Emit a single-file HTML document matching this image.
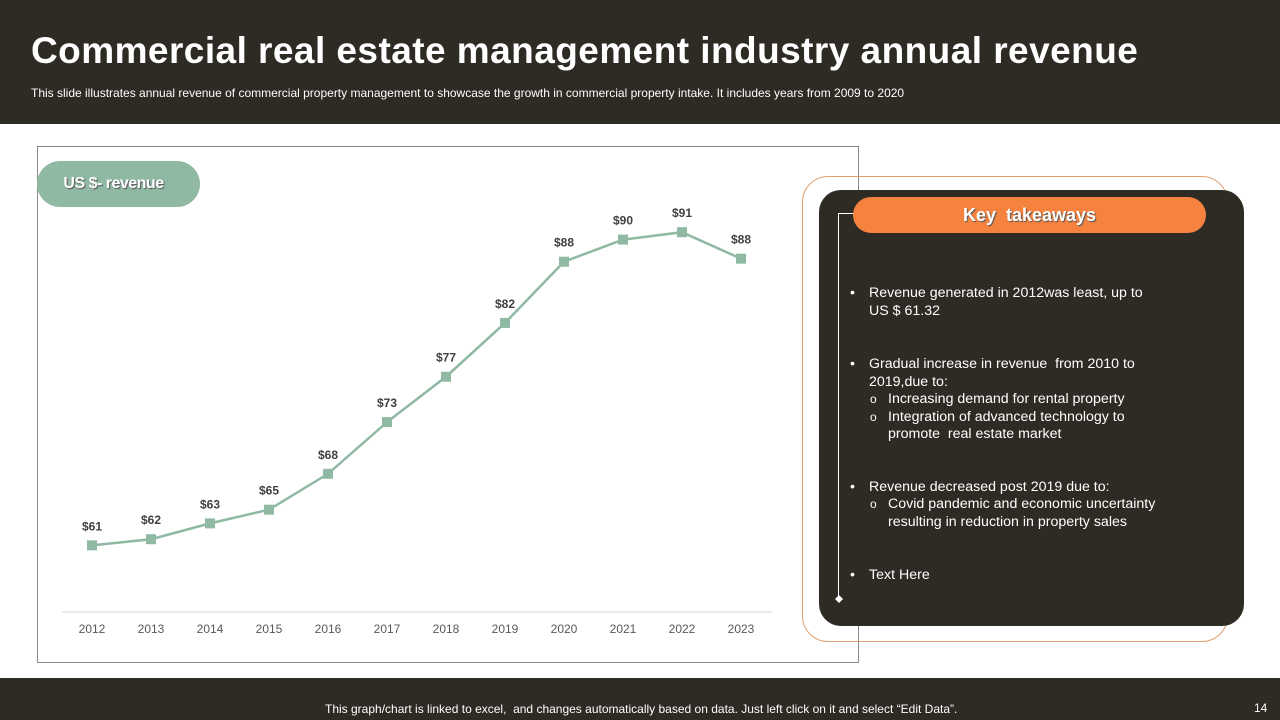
<!DOCTYPE html>
<html><head><meta charset="utf-8"><style>
*{margin:0;padding:0;box-sizing:border-box}
body{width:1280px;height:720px;background:#fff;font-family:"Liberation Sans",Arial,sans-serif;position:relative;overflow:hidden}
.hdr{position:absolute;left:0;top:0;width:1280px;height:124px;background:#2e2a24}
.hdr h1{position:absolute;left:31px;top:30px;color:#fff;font-size:37px;font-weight:bold;letter-spacing:0.45px;white-space:nowrap}
.hdr p{position:absolute;left:31px;top:86px;color:#fff;font-size:12px;white-space:nowrap}
.ftr{position:absolute;left:0;top:678px;width:1280px;height:42px;background:#2e2a24;color:#fff;font-size:12px}
.chartbox{position:absolute;left:37px;top:146px;width:822px;height:517px;border:1px solid #8a8a8a}
.pill{position:absolute;left:37px;top:161px;width:163px;height:46px;border-radius:23px;background:#8fb9a3;color:#fff;font-weight:bold;font-size:16px;letter-spacing:-0.5px;line-height:46px;text-align:center;text-shadow:1px 1px 1px #555;padding-right:10px}
.outer{position:absolute;left:802px;top:176px;width:426px;height:466px;border:1px solid #e0a070;border-radius:26px}
.inner{position:absolute;left:819px;top:190px;width:425px;height:436px;background:#2e2a24;border-radius:22px}
.kt{position:absolute;left:853px;top:197px;width:353px;height:36px;border-radius:18px;background:#f5823f;color:#fff;font-weight:bold;font-size:18px;line-height:36px;text-align:center;text-shadow:1px 1px 1px #555}
.vline{position:absolute;left:838px;top:213px;width:1px;height:386px;background:#fff}
.hline{position:absolute;left:838px;top:213px;width:16px;height:1px;background:#fff}
.txt{position:absolute;color:#fff;font-size:14.2px;line-height:17.5px;white-space:nowrap}
.b{position:absolute;left:-19px}
.o{position:absolute;left:-18px;font-size:12px}
</style></head><body>
<div class="hdr">
<h1>Commercial real estate management industry annual revenue</h1>
<p>This slide illustrates annual revenue of commercial property management to showcase the growth in commercial property intake. It includes years from 2009 to 2020</p>
</div>
<div class="chartbox"></div>
<svg id="chart" width="1280" height="720" style="position:absolute;left:0;top:0"></svg>
<div class="pill">US $- revenue</div>
<div class="outer"></div>
<div class="inner"></div>
<div class="vline"></div>
<div class="hline"></div>
<div class="kt">Key&nbsp; takeaways</div>
<div class="txt" style="left:869px;top:285px"><span class="b">•</span>Revenue generated in 2012was least, up to<br>US $ 61.32</div>
<div class="txt" style="left:869px;top:356px"><span class="b">•</span>Gradual increase in revenue&nbsp; from 2010 to<br>2019,due to:</div>
<div class="txt" style="left:888px;top:391px"><span class="o">o</span>Increasing demand for rental property<br><span class="o" style="top:17.5px">o</span>Integration of advanced technology to<br>promote&nbsp; real estate market</div>
<div class="txt" style="left:869px;top:479px"><span class="b">•</span>Revenue decreased post 2019 due to:</div>
<div class="txt" style="left:888px;top:496px"><span class="o">o</span>Covid pandemic and economic uncertainty<br>resulting in reduction in property sales</div>
<div class="txt" style="left:869px;top:567px"><span class="b">•</span>Text Here</div>
<svg width="8" height="8" style="position:absolute;left:835px;top:595px"><polygon points="4,0 8,4 4,8 0,4" fill="#fff"/></svg>
<div class="ftr">
<span style="position:absolute;left:325px;top:24px;white-space:nowrap">This graph/chart is linked to excel,&nbsp; and changes automatically based on data. Just left click on it and select “Edit Data”.</span>
<span style="position:absolute;left:1254px;top:23px">14</span>
</div>
<script>
const years=["2012","2013","2014","2015","2016","2017","2018","2019","2020","2021","2022","2023"];
const revenue=[61.32,61.9,63.4,64.7,68.1,73.0,77.3,82.4,88.2,90.3,91.0,88.49];
const yMin=55, yMax=95;
(function(){
const svg=document.getElementById('chart');
const NS='http://www.w3.org/2000/svg';
const x0=92, dx=59, base=612, plotTop=190;
const xs=i=>x0+i*dx;
const ys=v=>base-(v-yMin)/(yMax-yMin)*(base-plotTop);
function mk(t,a){const e=document.createElementNS(NS,t);for(const k in a)e.setAttribute(k,a[k]);svg.appendChild(e);return e;}
const ax=mk('line',{x1:62,x2:772,y1:base,y2:base,stroke:'#d9d9d9','stroke-width':1});


const pl=mk('polyline',{points:revenue.map((v,i)=>xs(i)+','+ys(v)).join(' '),fill:'none',stroke:'#8fb9a3','stroke-width':2.5});


revenue.forEach((v,i)=>{
const r=mk('rect',{x:xs(i)-5,y:ys(v)-5,width:10,height:10,fill:'#8fb9a3'});


const t=mk('text',{x:xs(i),y:ys(v)-15,'text-anchor':'middle','font-size':12,'font-weight':'bold',fill:'#404040','font-family':'Liberation Sans, sans-serif'});
t.textContent='$'+Math.round(v);


const l=mk('text',{x:xs(i),y:633,'text-anchor':'middle','font-size':12,fill:'#595959','font-family':'Liberation Sans, sans-serif'});
l.textContent=years[i];


});
})();
</script>
</body></html>
